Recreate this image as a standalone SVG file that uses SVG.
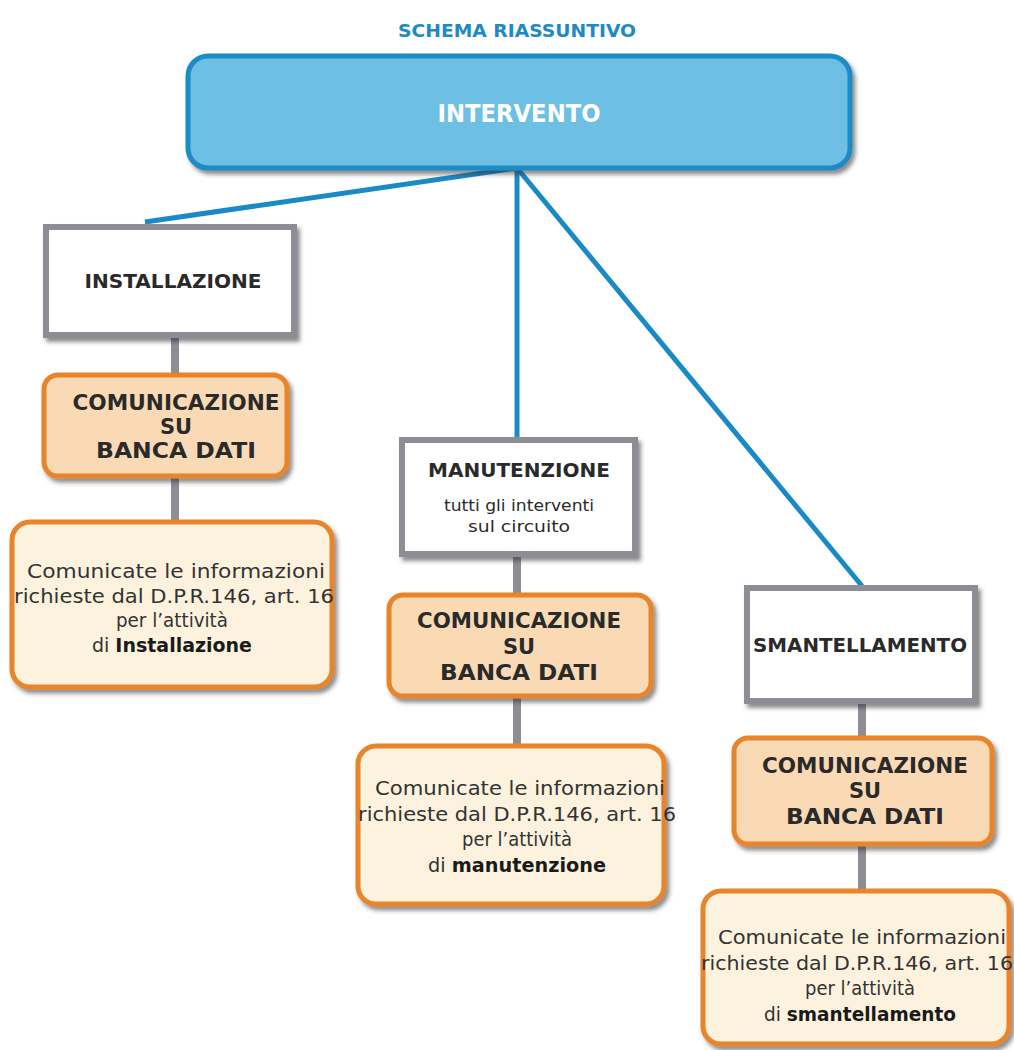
<svg xmlns="http://www.w3.org/2000/svg" width="1014" height="1050" viewBox="0 0 1014 1050">
<defs>
<filter id="sh" x="-10%" y="-10%" width="130%" height="130%">
<feDropShadow dx="3" dy="4" stdDeviation="2" flood-color="#333" flood-opacity="0.55"/>
</filter>
<style>
.title{font-family:"DejaVu Sans",sans-serif;font-weight:bold;font-size:17px;fill:#1d8ac4;text-anchor:middle}
.top{fill:#6dc0e4;stroke:#1a8cc6;stroke-width:5}
.toptxt{font-family:"DejaVu Sans",sans-serif;font-weight:bold;font-size:24px;fill:#fff;text-anchor:middle}
.gray{fill:#fff;stroke:#8d8d95;stroke-width:6}
.orange{fill:#f9dab5;stroke:#e8842c;stroke-width:5}
.info{fill:#fcf2de;stroke:#e8842c;stroke-width:5}
.lbl{font-family:"DejaVu Sans",sans-serif;font-weight:bold;font-size:20px;fill:#2a2a2a;text-anchor:middle}
.big{font-family:"DejaVu Sans",sans-serif;font-weight:bold;font-size:21px;fill:#2a2a2a;text-anchor:middle}
.sm{font-family:"DejaVu Sans",sans-serif;font-size:16px;fill:#2a2a2a;text-anchor:middle}
.txt{font-family:"DejaVu Sans",sans-serif;font-size:19.5px;fill:#333;text-anchor:middle}
.b{font-weight:bold;fill:#1a1a1a}
.blue{stroke:#1a8ac6;stroke-width:5;fill:none}
.gline{stroke:#8d8d95;stroke-width:8;fill:none}
</style>
</defs>
<rect width="1014" height="1050" fill="#fff"/>
<text class="title" x="517" y="37" textLength="238" lengthAdjust="spacingAndGlyphs">SCHEMA RIASSUNTIVO</text>
<g id="connectors">
<line class="blue" x1="517" y1="168" x2="145" y2="222"/>
<line class="blue" x1="517" y1="168" x2="517" y2="440"/>
<line class="blue" x1="517" y1="168" x2="862" y2="586"/>
<line class="gline" x1="175" y1="337" x2="175" y2="375"/>
<line class="gline" x1="175" y1="477" x2="175" y2="522"/>
<line class="gline" x1="517" y1="555" x2="517" y2="595"/>
<line class="gline" x1="517" y1="697" x2="517" y2="746"/>
<line class="gline" x1="862" y1="702" x2="862" y2="738"/>
<line class="gline" x1="862" y1="845" x2="862" y2="891"/>
</g>
<g id="intervento">
<rect class="top" x="188" y="56" width="662" height="112" rx="20" filter="url(#sh)"/>
<text class="toptxt" x="519" y="122" textLength="163" lengthAdjust="spacingAndGlyphs">INTERVENTO</text>
</g>
<g id="installazione">
<rect class="gray" x="46" y="227" width="248" height="108" filter="url(#sh)"/>
<text class="lbl" x="173" y="288" textLength="177" lengthAdjust="spacingAndGlyphs">INSTALLAZIONE</text>
</g>
<g id="comunicazione1">
<rect class="orange" x="44" y="375" width="243" height="101" rx="14" filter="url(#sh)"/>
<text class="big" x="176" y="410" textLength="207" lengthAdjust="spacingAndGlyphs">COMUNICAZIONE</text>
<text class="big" x="176" y="434">SU</text>
<text class="big" x="176" y="458" textLength="160" lengthAdjust="spacingAndGlyphs">BANCA DATI</text>
</g>
<g id="info1">
<rect class="info" x="12" y="522" width="320" height="165" rx="18" filter="url(#sh)"/>
<text class="txt" x="176" y="578" textLength="298" lengthAdjust="spacingAndGlyphs">Comunicate le informazioni</text>
<text class="txt" x="174" y="603" textLength="320" lengthAdjust="spacingAndGlyphs">richieste dal D.P.R.146, art. 16</text>
<text class="txt" x="172" y="627" textLength="112" lengthAdjust="spacingAndGlyphs">per l’attività</text>
<text class="txt" x="172" y="652" textLength="160" lengthAdjust="spacingAndGlyphs">di <tspan class="b">Installazione</tspan></text>
</g>
<g id="manutenzione">
<rect class="gray" x="402" y="440" width="233" height="114" filter="url(#sh)"/>
<text class="lbl" x="519" y="477" textLength="182" lengthAdjust="spacingAndGlyphs">MANUTENZIONE</text>
<text class="sm" x="519" y="511" textLength="150" lengthAdjust="spacingAndGlyphs">tutti gli interventi</text>
<text class="sm" x="519" y="532" textLength="102" lengthAdjust="spacingAndGlyphs">sul circuito</text>
</g>
<g id="comunicazione2">
<rect class="orange" x="389" y="595" width="262" height="101" rx="14" filter="url(#sh)"/>
<text class="big" x="519" y="628" textLength="204" lengthAdjust="spacingAndGlyphs">COMUNICAZIONE</text>
<text class="big" x="519" y="654">SU</text>
<text class="big" x="519" y="680" textLength="158" lengthAdjust="spacingAndGlyphs">BANCA DATI</text>
</g>
<g id="info2">
<rect class="info" x="358" y="746" width="306" height="158" rx="18" filter="url(#sh)"/>
<text class="txt" x="520" y="795" textLength="290" lengthAdjust="spacingAndGlyphs">Comunicate le informazioni</text>
<text class="txt" x="517" y="821" textLength="318" lengthAdjust="spacingAndGlyphs">richieste dal D.P.R.146, art. 16</text>
<text class="txt" x="517" y="846" textLength="110" lengthAdjust="spacingAndGlyphs">per l’attività</text>
<text class="txt" x="517" y="872" textLength="178" lengthAdjust="spacingAndGlyphs">di <tspan class="b">manutenzione</tspan></text>
</g>
<g id="smantellamento">
<rect class="gray" x="747" y="588" width="228" height="113" filter="url(#sh)"/>
<text class="lbl" x="860" y="652" textLength="214" lengthAdjust="spacingAndGlyphs">SMANTELLAMENTO</text>
</g>
<g id="comunicazione3">
<rect class="orange" x="734" y="738" width="258" height="106" rx="14" filter="url(#sh)"/>
<text class="big" x="865" y="773" textLength="206" lengthAdjust="spacingAndGlyphs">COMUNICAZIONE</text>
<text class="big" x="865" y="798">SU</text>
<text class="big" x="865" y="824" textLength="158" lengthAdjust="spacingAndGlyphs">BANCA DATI</text>
</g>
<g id="info3">
<rect class="info" x="703" y="891" width="306" height="153" rx="18" filter="url(#sh)"/>
<text class="txt" x="862" y="944" textLength="288" lengthAdjust="spacingAndGlyphs">Comunicate le informazioni</text>
<text class="txt" x="857" y="970" textLength="312" lengthAdjust="spacingAndGlyphs">richieste dal D.P.R.146, art. 16</text>
<text class="txt" x="860" y="995" textLength="110" lengthAdjust="spacingAndGlyphs">per l’attività</text>
<text class="txt" x="860" y="1021" textLength="192" lengthAdjust="spacingAndGlyphs">di <tspan class="b">smantellamento</tspan></text>
</g>
</svg>
